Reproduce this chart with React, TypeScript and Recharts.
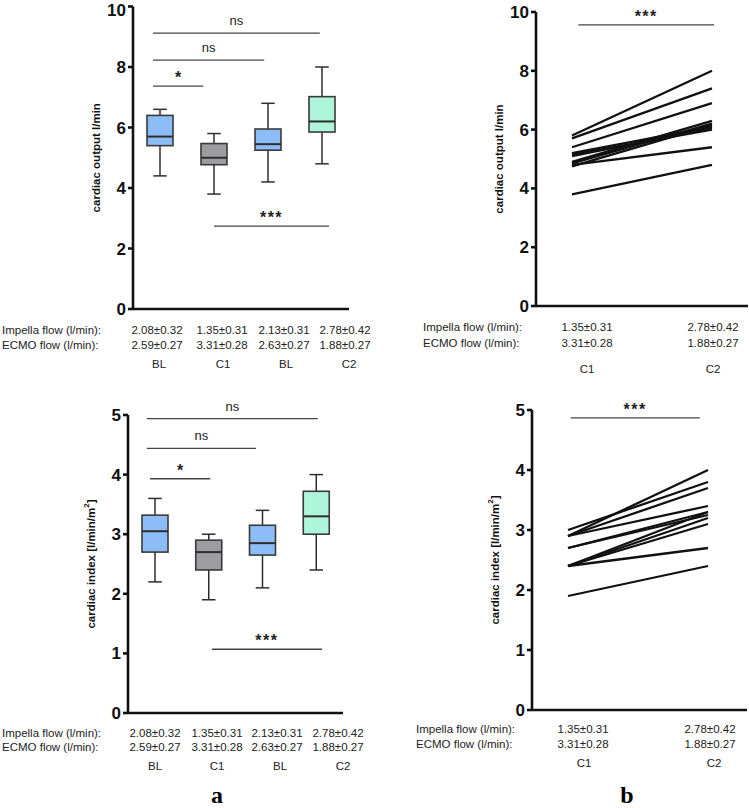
import React from 'react';
import { ComposedChart, Bar, LineChart, Line, XAxis, YAxis, ReferenceLine } from 'recharts';

const FONT = 'Arial, "Liberation Sans", Helvetica, sans-serif';

// box plot panels (a)
const groups = ['BL', 'C1', 'BL', 'C2'];
const groupColors = ['#8cbdf6', '#9c9ca1', '#8cbdf6', '#aef5dc'];

const coMin = [4.4, 3.8, 4.2, 4.8];
const coQ1 = [5.4, 4.77, 5.25, 5.85];
const coMed = [5.7, 5.0, 5.45, 6.2];
const coQ3 = [6.4, 5.47, 5.95, 7.02];
const coMax = [6.6, 5.8, 6.8, 8.0];

const ciMin = [2.2, 1.9, 2.1, 2.4];
const ciQ1 = [2.7, 2.4, 2.65, 3.0];
const ciMed = [3.05, 2.7, 2.85, 3.3];
const ciQ3 = [3.32, 2.9, 3.15, 3.72];
const ciMax = [3.6, 3.0, 3.4, 4.0];

const impellaFlow = ['2.08±0.32', '1.35±0.31', '2.13±0.31', '2.78±0.42'];
const ecmoFlow = ['2.59±0.27', '3.31±0.28', '2.63±0.27', '1.88±0.27'];

// paired panels (b)
const pairedConds = ['C1', 'C2'];
const pairedImpella = ['1.35±0.31', '2.78±0.42'];
const pairedEcmo = ['3.31±0.28', '1.88±0.27'];

const coC1 = [5.8, 5.7, 5.4, 5.2, 5.15, 5.1, 4.9, 4.85, 4.75, 4.8, 3.8];
const coC2 = [8.0, 7.4, 6.9, 6.1, 6.0, 6.05, 6.3, 6.2, 6.15, 5.4, 4.8];
const ciC1 = [3.0, 2.9, 2.9, 2.9, 2.7, 2.7, 2.4, 2.4, 2.4, 2.4, 1.9];
const ciC2 = [3.8, 4.0, 3.7, 3.4, 3.3, 3.25, 3.3, 3.2, 3.1, 2.7, 2.4];

const coTicks = [0, 2, 4, 6, 8, 10];
const ciTicks = [0, 1, 2, 3, 4, 5];

// significance bars: x in group units (group i sits at i + 0.5), y in axis units
const coBrackets = [
  { x1: 0.37, x2: 3.46, y: 9.12, text: 'ns' },
  { x1: 0.37, x2: 2.43, y: 8.23, text: 'ns' },
  { x1: 0.37, x2: 1.3, y: 7.37, text: '*' },
  { x1: 1.5, x2: 3.63, y: 2.74, text: '***' },
];
const ciBrackets = [
  { x1: 0.35, x2: 3.53, y: 4.94, text: 'ns' },
  { x1: 0.35, x2: 2.38, y: 4.44, text: 'ns' },
  { x1: 0.41, x2: 1.53, y: 3.93, text: '*' },
  { x1: 1.56, x2: 3.61, y: 1.07, text: '***' },
];
const coPairedBracket = { x1: 0.2, x2: 0.84, y: 9.56, text: '***' };
const ciPairedBracket = { x1: 0.18, x2: 0.78, y: 4.87, text: '***' };

const boxRows = (mn: number[], q1: number[], md: number[], q3: number[], mx: number[]) =>
  groups.map((g, i) => ({ pos: i + 0.5, name: g, min: mn[i], q1: q1[i], med: md[i], q3: q3[i], max: mx[i], color: groupColors[i] }));

const pairedRows = (a: number[], b: number[]) =>
  pairedConds.map((c, ci) => {
    const row: any = { cond: c };
    (ci === 0 ? a : b).forEach((v, i) => (row['s' + i] = v));
    return row;
  });

const BoxShape = (props: any) => {
  const { x, y, width, height, payload } = props;
  if (!payload) return null;
  const top = Math.min(y, y + height);
  const bottom = Math.max(y, y + height);
  const toY = (v: number) => bottom - ((v - payload.min) / (payload.max - payload.min)) * (bottom - top);
  const cx = x + width / 2;
  const cap = width * 0.26;
  const yQ1 = toY(payload.q1);
  const yQ3 = toY(payload.q3);
  const yMed = toY(payload.med);
  const s = '#2e2e2e';
  return (
    <g>
      <line x1={cx} x2={cx} y1={top} y2={yQ3} stroke={s} strokeWidth={1.5} />
      <line x1={cx} x2={cx} y1={yQ1} y2={bottom} stroke={s} strokeWidth={1.5} />
      <line x1={cx - cap} x2={cx + cap} y1={top} y2={top} stroke={s} strokeWidth={1.5} />
      <line x1={cx - cap} x2={cx + cap} y1={bottom} y2={bottom} stroke={s} strokeWidth={1.5} />
      <rect x={x} y={yQ3} width={width} height={yQ1 - yQ3} fill={payload.color} stroke="#3a3a3a" strokeWidth={1.6} />
      <line x1={x} x2={x + width} y1={yMed} y2={yMed} stroke={s} strokeWidth={2} />
    </g>
  );
};

// tick label that never rises above minY (keeps the top "10" inside the page)
const YTick = (props: any) => {
  const { x, y, payload, minY = 0 } = props;
  return (
    <text x={x} y={Math.max(y, minY)} dy="0.355em" textAnchor="end" fontSize={17} fontWeight={700} fill="#111" fontFamily={FONT}>
      {payload.value}
    </text>
  );
};

const yLabel = (text: string, sup?: string) => (props: any) => {
  const vb = props.viewBox;
  const x = vb.x + vb.width - 37;
  const cy = vb.y + vb.height / 2;
  return (
    <text
      x={x}
      y={cy}
      transform={`rotate(-90 ${x} ${cy})`}
      textAnchor="middle"
      dominantBaseline="central"
      fontFamily={FONT}
      fontWeight={700}
      fontSize={11.5}
      fill="#111"
    >
      {text}
      {sup && (
        <>
          <tspan dy={-5} fontSize={8}>{sup}</tspan>
          <tspan dy={5}>]</tspan>
        </>
      )}
    </text>
  );
};

const axisProps = {
  axisLine: { stroke: '#111', strokeWidth: 2.6 },
  tickLine: { stroke: '#111', strokeWidth: 2.6 },
  tickSize: 5,
  tickMargin: 2,
  interval: 0 as const,
  width: 60,
};

const sigLine = (b: any, key: number | string, xAxisId?: string) => (
  <ReferenceLine
    key={key}
    {...(xAxisId ? { xAxisId } : {})}
    segment={[{ x: b.x1, y: b.y }, { x: b.x2, y: b.y }]}
    stroke="#444"
    strokeWidth={1.3}
    ifOverflow="visible"
    label={{
      value: b.text,
      position: 'top',
      offset: b.text === 'ns' ? 8 : 3,
      fontSize: b.text === 'ns' ? 13 : 16,
      fontWeight: b.text === 'ns' ? 400 : 700,
      letterSpacing: b.text === '***' ? 1.5 : 0,
      fill: '#222',
      fontFamily: FONT,
    }}
  />
);

const BoxPanel = (p: any) => (
  <div style={{ position: 'absolute', left: p.left, top: p.top }}>
    <ComposedChart width={p.width} height={p.height} data={p.data} margin={p.margin}>
      <XAxis dataKey="pos" type="number" domain={[0, groups.length]} allowDataOverflow tick={false} tickLine={false} height={6}
        axisLine={{ stroke: '#111', strokeWidth: 2.6 }} />
      <YAxis {...axisProps} tick={<YTick minY={p.minTickY || 0} />} domain={[0, p.ticks[p.ticks.length - 1]]} ticks={p.ticks} label={p.label} />
      <Bar dataKey={(d: any) => [d.min, d.max]} barSize={26} shape={<BoxShape />} isAnimationActive={false} />
      {p.brackets.map((b: any, i: number) => sigLine(b, i))}
    </ComposedChart>
  </div>
);

const PairedPanel = (p: any) => (
  <div style={{ position: 'absolute', left: p.left, top: p.top }}>
    <LineChart width={p.width} height={p.height} data={p.data} margin={p.margin}>
      <XAxis dataKey="cond" tick={false} tickLine={false} height={6} padding={p.pad} axisLine={{ stroke: '#111', strokeWidth: 2.6 }} />
      <XAxis xAxisId="n" type="number" domain={[0, 1]} hide allowDataOverflow />
      <YAxis {...axisProps} tick={<YTick />} domain={[0, p.ticks[p.ticks.length - 1]]} ticks={p.ticks} label={p.label} />
      {p.series.map((_: number, i: number) => (
        <Line key={i} dataKey={'s' + i} stroke="#111" strokeWidth={2.3} dot={false} isAnimationActive={false} />
      ))}
      {sigLine(p.bracket, 'sig', 'n')}
    </LineChart>
  </div>
);

const FlowTable = (p: any) => {
  const cell = (txt: string, x: number, y: number, key: string) => (
    <div key={key} style={{ position: 'absolute', left: x, top: y, transform: 'translate(-50%, -50%)', whiteSpace: 'nowrap' }}>
      {txt}
    </div>
  );
  const rowLabel = (txt: string, y: number) => (
    <div style={{ position: 'absolute', left: p.labelX, top: y, transform: 'translateY(-50%)', whiteSpace: 'nowrap' }}>{txt}</div>
  );
  return (
    <div style={{ position: 'absolute', left: 0, top: 0, fontFamily: FONT, fontSize: 11.5, color: '#222' }}>
      {rowLabel('Impella flow (l/min):', p.rows[0])}
      {rowLabel('ECMO flow (l/min):', p.rows[1])}
      {p.impella.map((t: string, i: number) => cell(t, p.cols[i], p.rows[0], 'i' + i))}
      {p.ecmo.map((t: string, i: number) => cell(t, p.cols[i], p.rows[1], 'e' + i))}
      {p.names.map((t: string, i: number) => cell(t, p.nameCols[i], p.rows[2], 'n' + i))}
    </div>
  );
};

export default function App() {
  const coBox = boxRows(coMin, coQ1, coMed, coQ3, coMax);
  const ciBox = boxRows(ciMin, ciQ1, ciMed, ciQ3, ciMax);
  const coPaired = pairedRows(coC1, coC2);
  const ciPaired = pairedRows(ciC1, ciC2);
  const panelLetter = (t: string, x: number) => (
    <div style={{ position: 'absolute', left: x, top: 795, lineHeight: 1, transform: 'translate(-50%, -50%)', fontFamily: '"Liberation Serif", "Times New Roman", serif', fontWeight: 700, fontSize: 24 }}>
      {t}
    </div>
  );
  return (
    <div style={{ position: 'absolute', left: 0, top: 0, width: 749, height: 808, background: '#fff', overflow: 'hidden' }}>
      <BoxPanel left={0} top={-6} width={360} height={331} margin={{ top: 12.5, right: 11, left: 73, bottom: 10 }} minTickY={15.5}
        data={coBox} ticks={coTicks} brackets={coBrackets} label={yLabel('cardiac output l/min')} />
      <PairedPanel left={380} top={-6} width={369} height={328} margin={{ top: 18, right: 1, left: 96, bottom: 10 }}
        data={coPaired} series={coC1} ticks={coTicks} bracket={coPairedBracket} pad={{ left: 36, right: 36 }}
        label={yLabel('cardiac output l/min')} />
      <BoxPanel left={0} top={390} width={345} height={339} margin={{ top: 25, right: 2, left: 68, bottom: 10 }}
        data={ciBox} ticks={ciTicks} brackets={ciBrackets} label={yLabel('cardiac index [l/min/m', '2')} />
      <PairedPanel left={380} top={390} width={369} height={336} margin={{ top: 20, right: 2, left: 92, bottom: 10 }}
        data={ciPaired} series={ciC1} ticks={ciTicks} bracket={ciPairedBracket} pad={{ left: 36, right: 39 }}
        label={yLabel('cardiac index [l/min/m', '2')} />

      <FlowTable labelX={2} rows={[330, 345, 364]} cols={[157, 222, 284, 345]} nameCols={[159, 223, 286, 349]}
        impella={impellaFlow} ecmo={ecmoFlow} names={groups} />
      <FlowTable labelX={423} rows={[327, 343, 369]} cols={[587, 713]} nameCols={[587, 713]}
        impella={pairedImpella} ecmo={pairedEcmo} names={pairedConds} />
      <FlowTable labelX={2} rows={[733, 747, 766]} cols={[155, 217, 277, 338]} nameCols={[155, 217, 280, 343]}
        impella={impellaFlow} ecmo={ecmoFlow} names={groups} />
      <FlowTable labelX={416} rows={[729, 744, 763]} cols={[583, 710]} nameCols={[584, 714]}
        impella={pairedImpella} ecmo={pairedEcmo} names={pairedConds} />

      {panelLetter('a', 217)}
      {panelLetter('b', 627)}
    </div>
  );
}
